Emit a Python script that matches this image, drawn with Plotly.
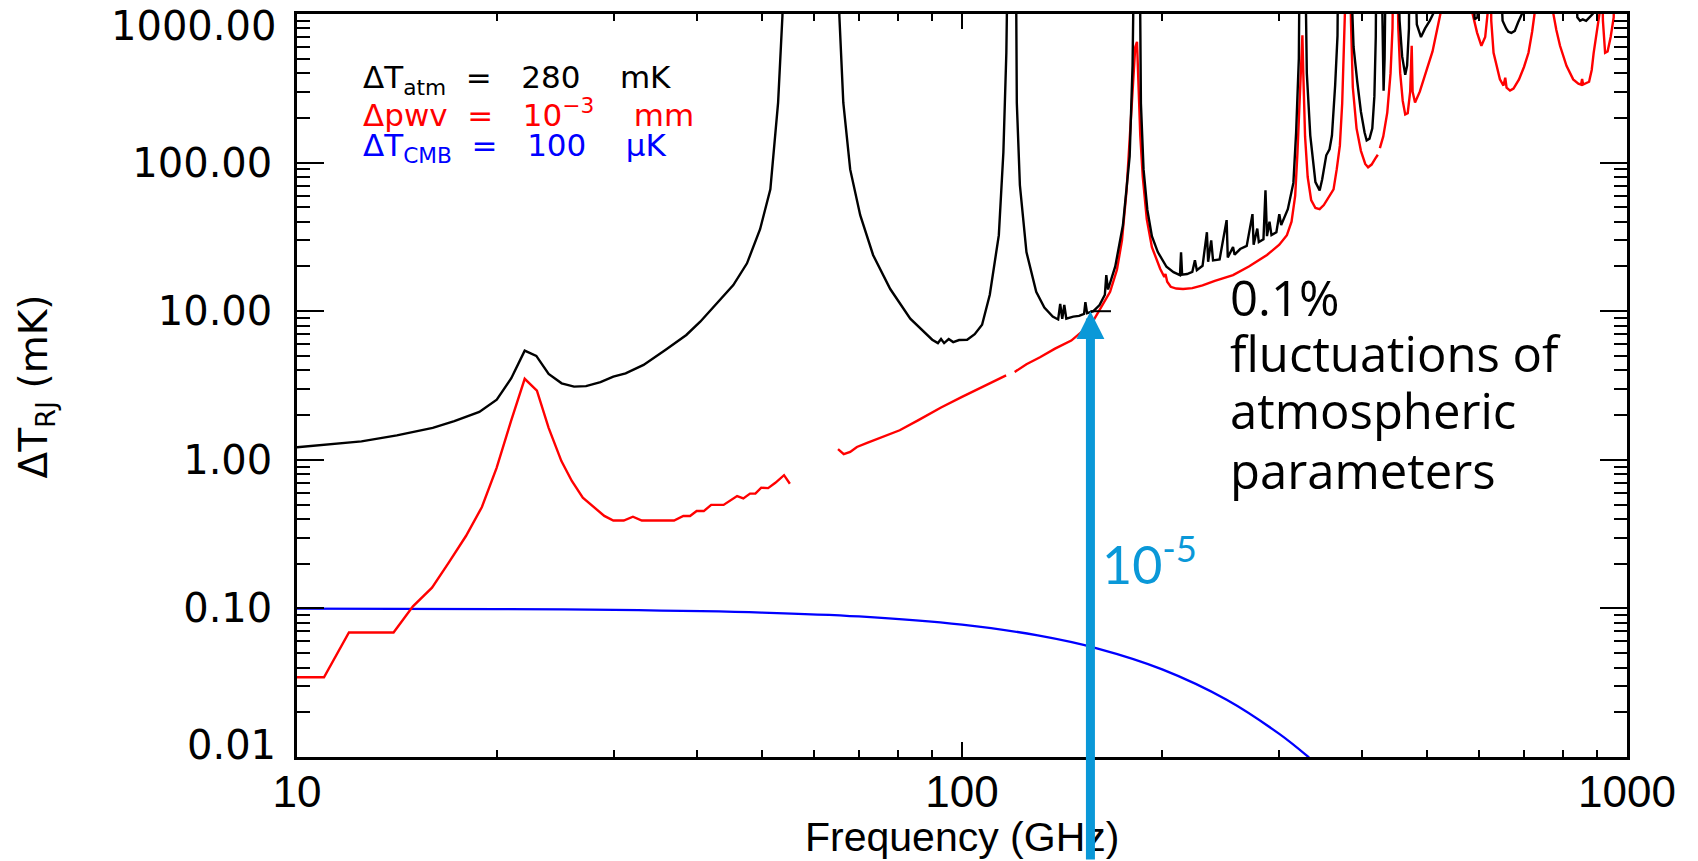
import math
import plotly.graph_objects as go

# ---------------- data ----------------
BLACK_FREQ = [10, 11.04, 12.5, 14.13, 16.0, 17.24, 18.8, 19.97, 21.0, 22.0, 22.9, 23.9, 25.0, 26.1, 27.2, 28.6,
              29.9, 31.2, 33.2, 35.8, 38.5, 40.4, 42.5, 45.3, 47.5, 49.7, 51.5, 52.9, 53.7, 54.0, None,
              65.2, 65.4, 66.3, 67.9, 70.3, 73.5, 78.0, 83.6, 90.2, 92.0, 93.0, 94.0, 95.5, 97.0, 99.0, 101.8,
              104.5, 107.2, 110.1, 113.6, 115.4, 116.6, 117.2, None,
              120.5, 120.9, 122.2, 125.0, 129.3, 133.0, 136.9, 139.5, 140.5, 141.5, 142.5, 143.5, 147.0, 150.0,
              152.6, 153.3, 154.2, 157.6, 161.0, 164.0, 164.8, 165.8, 170.0, 174.6, 178.7, 180.5, 181.5, None,
              185.0, 185.8, 187.5, 190.0, 193.0, 197.0, 203.0, 208.0, 212.7, 213.5, 214.3, 218.0, 222.0, 224.0,
              225.5, 230.0, 233.5, 234.5, 237.0, 238.5, 244.0, 250.0, 251.0, 255.6, 257.0, 262.0, 268.0, 273.4,
              274.5, 278.0, 279.5, 284.0, 286.0, 287.5, 290.0, 292.0, 297.0, 300.0, 302.0, 309.0, 315.0, 318.0,
              321.0, 322.0, None,
              328.0, 330.0, 334.0, 340.0, 345.0, 348.0, 353.0, 357.0, 360.0, 364.0, 367.0, 368.0, None,
              383.0, 388.0, 393.0, 398.0, 403.0, 406.0, 410.0, 414.0, 417.0, 419.0, 420.0, None,
              427.0, 429.0, 430.5, 432.0, 434.0, None,
              452.0, 455.0, 459.0, 464.0, 467.0, 470.0, 471.0, None,
              479.0, 483.0, 490.0, 497.0, 505.0, 511.0, 513.0, None,
              585.0, 590.0, 596.0, 600.0, None,
              642.0, 650.0, 658.0, 663.0, 670.0, 678.0, 686.0, 695.0, 698.0, None,
              835.0, 842.0, 850.0, 858.0, 868.0, 878.0, 888.0, 891.0]
BLACK_DT = [1.214, 1.265, 1.33, 1.46, 1.64, 1.82, 2.1, 2.54, 3.54, 5.43, 5.0, 3.78, 3.27, 3.11, 3.13, 3.33,
            3.63, 3.82, 4.35, 5.49, 6.92, 8.5, 11.0, 15.0, 21.0, 35.6, 66, 253, 970, 3000, None,
            3000, 970, 253, 90, 44.3, 23.9, 14.1, 8.9, 6.43, 6.1, 6.5, 6.1, 6.5, 6.2, 6.4, 6.43,
            7.0, 8.1, 12.9, 32.5, 117, 548, 3000, None,
            3000, 253, 70.4, 25, 13.5, 10.6, 9.2, 8.8, 11.2, 8.9, 11.0, 8.9, 9.2, 9.3,
            9.6, 11.5, 9.7, 10.0, 11.0, 12.9, 17.5, 14.0, 20.0, 38.0, 110, 450, 3000, None,
            3000, 250, 90, 48, 32, 25, 19.9, 18.3, 17.5, 24.9, 17.6, 17.8, 18.4, 22.0,
            18.9, 20.2, 34.0, 21.5, 30.0, 22.0, 22.3, 41.0, 23.0, 27.0, 24.0, 26.2, 27.5, 45.0,
            28.0, 36.0, 29.2, 30.5, 65.0, 32.0, 40.0, 32.5, 34.0, 45.0, 38.0, 48.6, 73.0, 159,
            500, 3000, None,
            3000, 400, 152, 74, 65, 77, 112, 123, 152, 330, 712, 3000, None,
            3000, 600, 350, 220, 160, 141, 145, 170, 280, 700, 3000, None,
            3000, 500, 305, 500, 3000, None,
            3000, 900, 520, 390, 450, 800, 3000, None,
            3000, 850, 700, 800, 900, 1000, 3000, None,
            3000, 920, 950, 3000, None,
            3000, 900, 800, 760, 746, 770, 880, 1000, 3000, None,
            3000, 950, 900, 920, 900, 950, 1000, 3000]

RED_FREQ = [10, 10.98, 11.97, 13.97, 14.94, 15.96, 16.92, 17.95, 18.97, 19.96, 20.98, 22.0, 22.95, 23.9,
            24.98, 25.9, 26.9, 28.98, 29.9, 31.0, 32.0, 33.0, 36.9, 38.1, 39.0, 39.9, 40.9, 41.96, 43.8,
            45.9, 46.9, 48.0, 48.9, 49.9, 51.1, 52.4, 54.0, 55.1, None,
            65.1, 66.4, 67.9, 69.5, 72.0, 75.0, 80.6, 86.0, 93.0, 100.0, 106.0, 112.0, 116.5, None,
            120.0, 125.0, 131.0, 138.0, 146.0, 151.0, 156.0, 162.5, 167.0, 171.0, 174.0, 176.8, 179.0,
            180.5, 182.2, 183.3, 184.3, 185.4, 187.0, 189.6, 193.0, 198.6, 201.5, 202.3, 203.5, 206.0,
            210.0, 215.0, 222.0, 230.0, 240.0, 255.6, 270.0, 287.5, 300.0, 308.0, 313.0, 317.0, 319.5,
            322.0, 324.0, 325.0, 326.0, 328.0, 331.0, 335.0, 340.0, 345.0, 350.0, 356.0, 362.0, 366.0,
            370.0, 373.0, 375.0, 376.5, 377.5, None,
            383.0, 384.5, 387.0, 392.0, 398.0, 404.0, 408.0, 413.0, 418.0, 422.0, None,
            425.0, 430.0, 436.0, 441.0, 444.0, 445.5, None,
            451.0, 453.0, 456.0, 460.0, 464.0, 468.0, 472.0, 474.5, 476.0, 480.0, 488.0, 495.0, 500.0,
            510.0, 517.0, 524.0, 528.0, None,
            584.0, 586.0, 595.0, 604.0, 612.0, 617.0, 619.0, None,
            623.0, 625.0, 630.0, 637.0, 644.0, 652.0, 656.0, 659.0, 667.0, 675.0, 688.0, 700.0, 711.0,
            720.0, 726.0, 728.0, None,
            773.0, 775.0, 783.0, 793.0, 811.0, 830.0, 845.0, 853.0, 856.0, 859.0, 877.0, 885.0, 891.0,
            900.0, 909.0, 912.0, None,
            916.0, 920.0, 927.0, 935.0, 945.0, 955.0, 958.0]
RED_DT = [0.0344, 0.0344, 0.0689, 0.0689, 0.1033, 0.138, 0.204, 0.307, 0.481, 0.883, 1.82, 3.51, 2.92, 1.64,
          0.98, 0.72, 0.556, 0.419, 0.39, 0.39, 0.414, 0.39, 0.39, 0.419, 0.419, 0.452, 0.452, 0.497, 0.497,
          0.57, 0.55, 0.592, 0.592, 0.649, 0.645, 0.70, 0.788, 0.69, None,
          1.18, 1.09, 1.13, 1.22, 1.30, 1.40, 1.58, 1.85, 2.25, 2.65, 3.0, 3.4, 3.7, None,
          3.9, 4.4, 4.9, 5.6, 6.34, 7.2, 8.0, 11.0, 13.5, 19.0, 30.0, 65.0, 160,
          330, 600, 650, 300, 152, 80, 41.6, 27, 19.3, 17.0, 17.8, 15.8, 14.6,
          14.2, 14.1, 14.3, 14.9, 16.0, 17.5, 20.0, 23.9, 28.0, 32.5, 40, 60, 117,
          300, 600, 720, 400, 150, 80, 56, 49.5, 48.6, 51.8, 58, 66, 90,
          130, 250, 480, 1000, 3000, None,
          3000, 900, 320, 170, 120, 98, 93, 97, 106, 113, None,
          125, 150, 217, 400, 800, 3000, None,
          3000, 800, 400, 260, 211, 215, 300, 611, 300, 254, 300, 360, 424,
          560, 746, 1000, 3000, None,
          3000, 1000, 750, 611, 700, 1000, 3000, None,
          3000, 900, 548, 440, 363, 330, 373, 320, 305, 315, 363, 440, 548,
          760, 1000, 3000, None,
          3000, 1000, 780, 611, 448, 363, 340, 335, 365, 335, 350, 420, 548,
          750, 1000, 3000, None,
          3000, 900, 548, 560, 700, 950, 3000]

BLUE_FREQ = [10, 20, 30, 50, 70, 100, 130, 160, 200, 250, 300, 330, 335]
BLUE_DT = [0.0997, 0.0990, 0.0977, 0.0938, 0.0883, 0.0777, 0.0658, 0.0537, 0.0389, 0.0243, 0.0143, 0.0102, 0.0096]

X_TICKS = [10, 100, 1000]
X_TICK_TEXT = ["10", "100", "1000"]
Y_TICKS = [0.01, 0.1, 1, 10, 100, 1000]
Y_TICK_TEXT = ["", "0.10", "1.00", "10.00", "100.00", ""]
Y_END_LABELS = ["0.01", "1000.00"]   # end labels, set slightly inside the frame as in the original

ARROW_FREQ = 156.0      # GHz, where the blue arrow points
ARROW_LEVEL = 10.0      # mK
DASH_FREQ = [156.0, 167.5]
DASH_DT = [10.0, 10.0]

NOTE_LINES = ["0.1%", "fluctuations of", "atmospheric", "parameters"]

# ---------------- figure ----------------
W, H = 1698, 861
L, R, T, B = 297, 71, 11, 104
NB = "\u00a0"

fig = go.Figure()
fig.add_trace(go.Scatter(x=BLUE_FREQ, y=BLUE_DT, mode="lines", line=dict(color="#0000ff", width=2.3, shape="spline"),
                         hoverinfo="skip"))
fig.add_trace(go.Scatter(x=RED_FREQ, y=RED_DT, mode="lines", line=dict(color="#ff0000", width=2.4),
                         connectgaps=False, hoverinfo="skip"))
fig.add_trace(go.Scatter(x=BLACK_FREQ, y=BLACK_DT, mode="lines", line=dict(color="#000000", width=2.4),
                         connectgaps=False, hoverinfo="skip"))
fig.add_trace(go.Scatter(x=DASH_FREQ, y=DASH_DT, mode="lines", line=dict(color="#000000", width=2),
                         hoverinfo="skip"))

axis_common = dict(type="log", showgrid=False, zeroline=False, showline=True, linecolor="black",
                   linewidth=2.5, mirror="allticks", ticks="inside", tickcolor="black", tickwidth=2)

fig.update_xaxes(range=[1, 3], tickmode="array", tickvals=X_TICKS, ticktext=X_TICK_TEXT, ticklen=15,
                 minor=dict(ticks="inside", ticklen=7, tickwidth=2, tickcolor="black", dtick="D1"),
                 tickfont=dict(family="Liberation Sans, Arial", size=44, color="black"),
                 ticklabelstandoff=-6, ticklabeloverflow="allow", **axis_common)
fig.update_yaxes(range=[-2, 3], tickmode="array", tickvals=Y_TICKS, ticktext=Y_TICK_TEXT, ticklen=27,
                 minor=dict(ticks="inside", ticklen=13, tickwidth=2, tickcolor="black", dtick="D1"),
                 tickfont=dict(family="DejaVu Sans", size=40, color="black"),
                 ticklabelstandoff=14, ticklabeloverflow="allow", **axis_common)

def px_x(p):
    return (p - L) / (W - L - R)

def px_y(p):
    return (H - B - p) / (H - T - B)

annos = []
# end labels of the y axis
for txt, ypx in zip(Y_END_LABELS, [745, 23]):
    annos.append(dict(text=txt, xref="paper", yref="paper", x=px_x(278), y=px_y(ypx), xanchor="right",
                      yanchor="middle", showarrow=False, font=dict(family="DejaVu Sans", size=40, color="black")))
# axis titles
annos.append(dict(text="Frequency (GHz)", xref="paper", yref="paper", x=0.5, y=px_y(837), xanchor="center",
                  yanchor="middle", showarrow=False,
                  font=dict(family="Liberation Sans, Arial", size=41, color="black")))
annos.append(dict(text="ΔT<sub>RJ</sub> (mK)", xref="paper", yref="paper", x=px_x(36), y=px_y(385),
                  xanchor="center", yanchor="middle", textangle=-90, showarrow=False,
                  font=dict(family="DejaVu Sans", size=39, color="black")))
# legend-like labels
leg_font = "DejaVu Sans"
annos.append(dict(text="ΔT<sub>atm</sub>" + NB * 2 + "=" + NB * 3 + "280" + NB * 4 + "mK",
                  xref="paper", yref="paper", x=px_x(361), y=px_y(77),
                  xanchor="left", yanchor="middle", showarrow=False,
                  font=dict(family=leg_font, size=31, color="black")))
annos.append(dict(text="Δpwv" + NB * 2 + "=" + NB * 3 + "10<sup>−3</sup>" + NB * 4 + "mm",
                  xref="paper", yref="paper", x=px_x(361), y=px_y(110),
                  xanchor="left", yanchor="middle", showarrow=False,
                  font=dict(family=leg_font, size=31, color="#ff0000")))
annos.append(dict(text="ΔT<sub>CMB</sub>" + NB * 2 + "=" + NB * 3 + "100" + NB * 4 + "μK",
                  xref="paper", yref="paper", x=px_x(361), y=px_y(145),
                  xanchor="left", yanchor="middle", showarrow=False,
                  font=dict(family=leg_font, size=31, color="#0000ff")))
# right-hand text, one line each
for line, ypx in zip(NOTE_LINES, [295, 351, 409, 469]):
    annos.append(dict(text=line, xref="paper", yref="paper", x=px_x(1228), y=px_y(ypx), xanchor="left",
                      yanchor="middle", align="left", showarrow=False,
                      font=dict(family="Open Sans", size=49, color="black")))
annos.append(dict(text="10<sup>-5</sup>", xref="paper", yref="paper", x=px_x(1100), y=px_y(560),
                  xanchor="left", yanchor="middle", showarrow=False,
                  font=dict(family="Lato", size=52, color="#0a98d8")))
# blue arrow
annos.append(dict(text="", x=math.log10(ARROW_FREQ), y=math.log10(ARROW_LEVEL), xref="x", yref="y",
                  ax=0, ay=580, axref="pixel", ayref="pixel", showarrow=True, arrowhead=2, arrowsize=0.62,
                  arrowwidth=9, arrowcolor="#0a98d8", standoff=0))

fig.update_layout(width=W, height=H, margin=dict(l=L, r=R, t=T, b=B), paper_bgcolor="white",
                  plot_bgcolor="white", showlegend=False, annotations=annos)

fig.write_html("out.html")
